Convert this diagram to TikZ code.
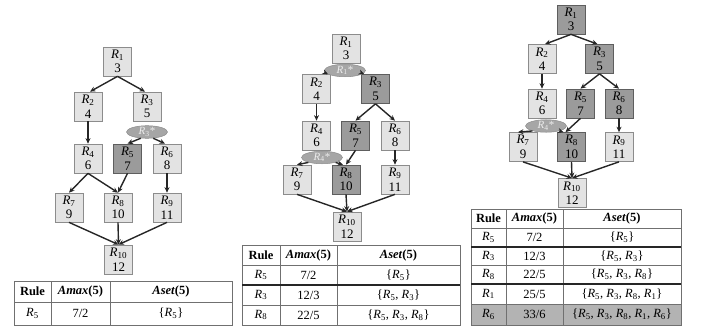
\documentclass[tikz,border=0pt]{standalone}
\usepackage{fontspec}
\setmainfont{Liberation Serif}
\usetikzlibrary{shapes.geometric,arrows.meta}
\definecolor{lightfill}{HTML}{E3E3E3}
\definecolor{lightedge}{HTML}{8C8C8C}
\definecolor{darkfill}{HTML}{9B9B9B}
\definecolor{darkedge}{HTML}{5E5E5E}
\definecolor{ellfill}{HTML}{A6A6A6}
\definecolor{elltext}{HTML}{EDEDED}
\definecolor{gridc}{HTML}{707070}
\definecolor{rowfill}{HTML}{B3B3B3}
\newcommand\Rs[1]{\textit{R}\textsubscript{#1}}
\tikzset{
  box/.style={rectangle, minimum width=28pt, minimum height=29pt, inner sep=0pt,
    align=center, font=\fontsize{13}{14.5}\selectfont, line width=0.7pt},
  lbox/.style={box, fill=lightfill, draw=lightedge},
  dbox/.style={box, fill=darkfill, draw=darkedge},
  star/.style={ellipse, minimum width=41pt, minimum height=12.5pt, inner sep=0pt,
    fill=ellfill, draw=lightedge, line width=0.5pt, text=elltext,
    font=\fontsize{11}{11}\selectfont},
  arr/.style={-{Stealth[length=5.5pt,width=5pt]}, line width=1.4pt, draw=black!85},
  cell/.style={inner sep=0pt, font=\fontsize{12.5}{13}\selectfont},
  grid/.style={draw=gridc, line width=0.6pt},
  thick sep/.style={draw=black!85, line width=1.8pt},
}
\begin{document}
\begin{tikzpicture}[x=1pt,y=-1pt]
\useasboundingbox (0,0) rectangle (702,327);

% ---------------- Panel 1 ----------------
\node[lbox] (a1) at (117.5,61.5) {\Rs{1}\\3};
\node[lbox] (a2) at (88,106.5) {\Rs{2}\\4};
\node[lbox] (a3) at (147,106.5) {\Rs{3}\\5};
\node[lbox] (a4) at (88,158.5) {\Rs{4}\\6};
\node[dbox] (a5) at (127.5,158.5) {\Rs{5}\\7};
\node[lbox] (a6) at (167,158.5) {\Rs{6}\\8};
\node[lbox] (a7) at (69,207.5) {\Rs{7}\\9};
\node[lbox] (a8) at (118,207.5) {\Rs{8}\\10};
\node[lbox] (a9) at (167,207.5) {\Rs{9}\\11};
\node[lbox] (a10) at (118.5,259.5) {\Rs{10}\\12};
\node[star] (ae) at (147,132) {\Rs{3}*};

\draw[arr] (a1.south) -- ([xshift=2pt]a2.north);
\draw[arr] (a1.south) -- ([xshift=-2pt]a3.north);
\draw[arr] (a2.south) -- (a4.north);
\draw[arr] (ae.225) -- (a5.north);
\draw[arr] (ae.315) -- ([xshift=-2pt]a6.north);
\draw[arr] (a4.south) -- (a7.north);
\draw[arr] (a4.south) -- (a8.north);
\draw[arr] (a5.south) -- (a8.north);
\draw[arr] (a6.south) -- (a9.north);
\draw[arr] (a7.south) -- (a10.north);
\draw[arr] (a8.south) -- (a10.north);
\draw[arr] (a9.south) -- (a10.north);

% table 1
\draw[grid] (14,281) rectangle (232,325);
\draw[grid] (14,302) -- (232,302);
\draw[grid] (51,281) -- (51,325);
\draw[grid] (110,281) -- (110,325);
\node[cell] (t1h1) at (32.5,291.5) {\textbf{Rule}};
\node[cell] (t1h2) at (80.5,291.5) {\textbf{\textit{Amax}(5)}};
\node[cell] (t1h3) at (171,291.5) {\textbf{\textit{Aset}(5)}};
\node[cell] (t1a1) at (32.5,313.5) {\Rs{5}};
\node[cell] (t1a2) at (80.5,313.5) {7/2};
\node[cell] (t1a3) at (171,313.5) {\{\Rs{5}\}};

% ---------------- Panel 2 ----------------
\node[lbox] (b1) at (346,48.5) {\Rs{1}\\3};
\node[lbox] (b2) at (316.5,89) {\Rs{2}\\4};
\node[dbox] (b3) at (375.5,89) {\Rs{3}\\5};
\node[lbox] (b4) at (316.5,135.5) {\Rs{4}\\6};
\node[dbox] (b5) at (355.5,135.5) {\Rs{5}\\7};
\node[lbox] (b6) at (395,135.5) {\Rs{6}\\8};
\node[lbox] (b7) at (297,179.5) {\Rs{7}\\9};
\node[dbox] (b8) at (346,179.5) {\Rs{8}\\10};
\node[lbox] (b9) at (395,179.5) {\Rs{9}\\11};
\node[lbox] (b10) at (347,226.5) {\Rs{10}\\12};
\node[star] (be1) at (345,70.5) {\Rs{1}*};
\node[star] (be4) at (322,157.5) {\Rs{4}*};

\draw[arr] (be1.190) -- ([xshift=-3pt]b2.north east);
\draw[arr] (be1.350) -- ([xshift=3pt]b3.north west);
\draw[arr] (b2.south) -- (b4.north);
\draw[arr] (b3.south) -- (b5.north);
\draw[arr] (b3.south) -- (b6.north);
\draw[arr] (be4.200) -- (b7.north);
\draw[arr] (be4.340) -- ([xshift=-3pt]b8.north);
\draw[arr] (b5.south) -- (b8.north);
\draw[arr] (b6.south) -- (b9.north);
\draw[arr] (b7.south) -- (b10.north);
\draw[arr] (b8.south) -- (b10.north);
\draw[arr] (b9.south) -- (b10.north);

% table 2
\draw[grid] (242,245) rectangle (460,325);
\draw[grid] (242,265) -- (460,265);
\draw[grid] (242,305) -- (460,305);
\draw[grid] (280,245) -- (280,325);
\draw[grid] (337,245) -- (337,325);
\draw[thick sep] (242,285) -- (460,285);
\node[cell] (t2h1) at (261,255) {\textbf{Rule}};
\node[cell] (t2h2) at (308.5,255) {\textbf{\textit{Amax}(5)}};
\node[cell] (t2h3) at (398.5,255) {\textbf{\textit{Aset}(5)}};
\node[cell] (t2a1) at (261,275) {\Rs{5}};
\node[cell] (t2a2) at (308.5,275) {7/2};
\node[cell] (t2a3) at (398.5,275) {\{\Rs{5}\}};
\node[cell] (t2b1) at (261,295) {\Rs{3}};
\node[cell] (t2b2) at (308.5,295) {12/3};
\node[cell] (t2b3) at (398.5,295) {\{\Rs{5}, \Rs{3}\}};
\node[cell] (t2c1) at (261,315) {\Rs{8}};
\node[cell] (t2c2) at (308.5,315) {22/5};
\node[cell] (t2c3) at (398.5,315) {\{\Rs{5}, \Rs{3}, \Rs{8}\}};

% ---------------- Panel 3 ----------------
\node[dbox] (c1) at (571,19.5) {\Rs{1}\\3};
\node[lbox] (c2) at (542,59) {\Rs{2}\\4};
\node[dbox] (c3) at (599.5,59) {\Rs{3}\\5};
\node[lbox] (c4) at (542,103.5) {\Rs{4}\\6};
\node[dbox] (c5) at (580.5,103.5) {\Rs{5}\\7};
\node[dbox] (c6) at (619,103.5) {\Rs{6}\\8};
\node[lbox] (c7) at (523,147) {\Rs{7}\\9};
\node[dbox] (c8) at (571.5,147) {\Rs{8}\\10};
\node[lbox] (c9) at (619,147) {\Rs{9}\\11};
\node[lbox] (c10) at (572,193) {\Rs{10}\\12};
\node[star] (ce4) at (546,126) {\Rs{4}*};

\draw[arr] (c1.south) -- ([xshift=3pt]c2.north);
\draw[arr] (c1.south) -- ([xshift=-2pt]c3.north);
\draw[arr] (c2.south) -- (c4.north);
\draw[arr] (c3.south) -- (c5.north);
\draw[arr] (c3.south) -- (c6.north);
\draw[arr] (ce4.200) -- ([xshift=-5pt]c7.north);
\draw[arr] (ce4.340) -- ([xshift=-8pt]c8.north);
\draw[arr] (c5.south) -- ([xshift=-6pt]c8.north);
\draw[arr] (c6.south) -- (c9.north);
\draw[arr] (c7.south) -- (c10.north);
\draw[arr] (c8.south) -- (c10.north);
\draw[arr] (c9.south) -- (c10.north);

% table 3
\fill[rowfill] (471,304) rectangle (681,325);
\draw[grid] (471,209) rectangle (681,325);
\draw[grid] (471,228) -- (681,228);
\draw[grid] (471,265) -- (681,265);
\draw[grid] (471,304) -- (681,304);
\draw[grid] (506,209) -- (506,325);
\draw[grid] (563,209) -- (563,325);
\draw[thick sep] (471,247) -- (681,247);
\draw[thick sep] (471,284) -- (681,284);
\node[cell] (t3h1) at (488.5,218.5) {\textbf{Rule}};
\node[cell] (t3h2) at (534.5,218.5) {\textbf{\textit{Amax}(5)}};
\node[cell] (t3h3) at (622,218.5) {\textbf{\textit{Aset}(5)}};
\node[cell] (t3a1) at (488.5,237.5) {\Rs{5}};
\node[cell] (t3a2) at (534.5,237.5) {7/2};
\node[cell] (t3a3) at (622,237.5) {\{\Rs{5}\}};
\node[cell] (t3b1) at (488.5,256) {\Rs{3}};
\node[cell] (t3b2) at (534.5,256) {12/3};
\node[cell] (t3b3) at (622,256) {\{\Rs{5}, \Rs{3}\}};
\node[cell] (t3c1) at (488.5,274.5) {\Rs{8}};
\node[cell] (t3c2) at (534.5,274.5) {22/5};
\node[cell] (t3c3) at (622,274.5) {\{\Rs{5}, \Rs{3}, \Rs{8}\}};
\node[cell] (t3d1) at (488.5,294) {\Rs{1}};
\node[cell] (t3d2) at (534.5,294) {25/5};
\node[cell] (t3d3) at (622,294) {\{\Rs{5}, \Rs{3}, \Rs{8}, \Rs{1}\}};
\node[cell] (t3e1) at (488.5,314.5) {\Rs{6}};
\node[cell] (t3e2) at (534.5,314.5) {33/6};
\node[cell] (t3e3) at (622,314.5) {\{\Rs{5}, \Rs{3}, \Rs{8}, \Rs{1}, \Rs{6}\}};
\end{tikzpicture}
\end{document}
